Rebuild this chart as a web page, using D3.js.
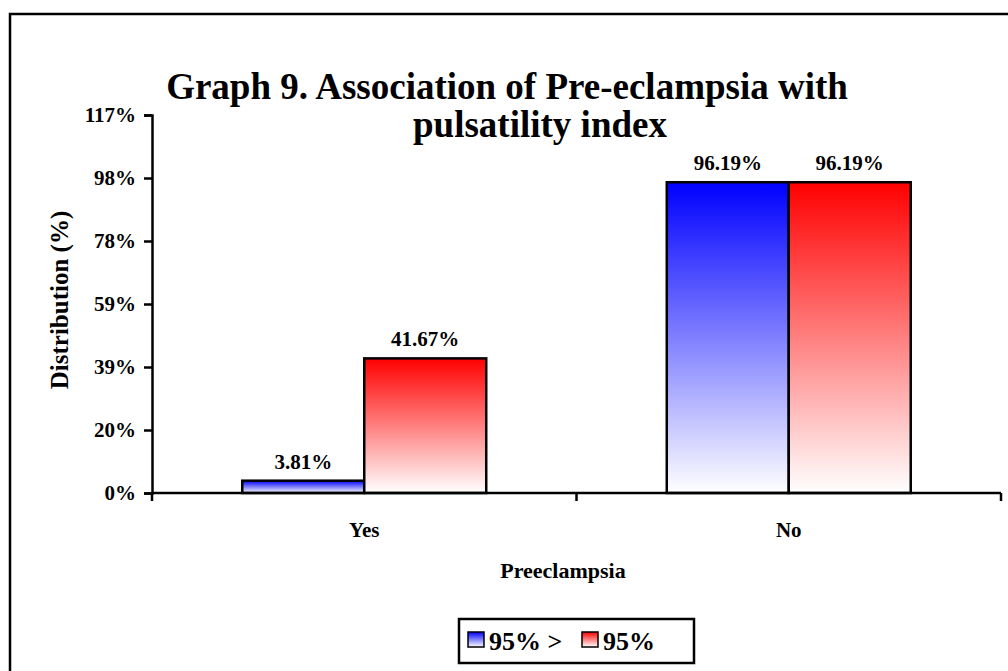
<!DOCTYPE html>
<html>
<head>
<meta charset="utf-8">
<script src="https://cdn.jsdelivr.net/npm/d3@7"></script>
<style>
  body { margin: 0; background: #fff; }
  svg text { font-family: "Liberation Serif", "Times New Roman", serif; font-weight: bold; fill: #000; }
</style>
</head>
<body>
<div id="chart"></div>
<script>
// data
var categories = ["Yes", "No"];
var seriesNames = ["95% >", "95%"];
var below95 = [3.81, 96.19];
var above95 = [41.67, 96.19];
var yTicks = [0, 19.5, 39, 58.5, 78, 97.5, 117];

var width = 1008, height = 671;
var svg = d3.select("#chart").append("svg")
  .attr("width", width)
  .attr("height", height);

// outer frame (runs past the right/bottom edge like the original)
svg.append("rect")
  .attr("x", 10).attr("y", 14)
  .attr("width", 1020).attr("height", 690)
  .attr("fill", "none").attr("stroke", "#000").attr("stroke-width", 2.5);

var colors = [["#0000ff", "#ffffff"], ["#ff0000", "#ffffff"]];
var defs = svg.append("defs");
colors.forEach(function (c, i) {
  var g = defs.append("linearGradient")
    .attr("id", "grad" + i)
    .attr("x1", 0).attr("y1", 0).attr("x2", 0).attr("y2", 1);
  g.append("stop").attr("offset", "0%").attr("stop-color", c[0]);
  g.append("stop").attr("offset", "100%").attr("stop-color", c[1]);
});

var plotLeft = 152, plotRight = 1001, plotTop = 115, plotBottom = 493;

var x = d3.scaleBand().domain(categories).range([plotLeft, plotRight]).padding(0);
var xs = d3.scaleBand().domain(seriesNames).range([0, x.bandwidth()]).paddingInner(0).paddingOuter(0.74);
var y = d3.scaleLinear().domain([0, 117]).range([plotBottom, plotTop]);

// y axis
var yAxis = svg.append("g")
  .attr("transform", "translate(" + plotLeft + ",0)")
  .call(d3.axisLeft(y).tickValues(yTicks).tickSizeOuter(0).tickSize(8).tickPadding(8)
    .tickFormat(function (d) { return Math.round(d) + "%"; }));
yAxis.select(".domain").attr("stroke-width", 2.5);
yAxis.selectAll(".tick line").attr("stroke-width", 2.5);
yAxis.selectAll("text").style("font-size", "21px").attr("fill", "#000");

// bars
var data = [below95, above95];
data.forEach(function (vals, si) {
  svg.append("g").selectAll("rect")
    .data(vals)
    .enter().append("rect")
    .attr("x", function (d, i) { return x(categories[i]) + xs(seriesNames[si]); })
    .attr("y", function (d) { return y(d); })
    .attr("width", xs.bandwidth())
    .attr("height", function (d) { return y(0) - y(d); })
    .attr("fill", "url(#grad" + si + ")")
    .attr("stroke", "#000").attr("stroke-width", 2.5);

  svg.append("g").selectAll("text")
    .data(vals)
    .enter().append("text")
    .attr("x", function (d, i) { return x(categories[i]) + xs(seriesNames[si]) + xs.bandwidth() / 2; })
    .attr("y", function (d) { return y(d) - 12; })
    .attr("text-anchor", "middle")
    .style("font-size", "21px")
    .text(function (d) { return d.toFixed(2) + "%"; });
});

// x axis (ticks at category boundaries)
var xAxis = svg.append("g").attr("transform", "translate(0," + plotBottom + ")");
xAxis.append("line").attr("x1", plotLeft).attr("x2", plotRight).attr("stroke", "#000").attr("stroke-width", 2.5);
var bounds = [plotLeft, x("No"), plotRight];
xAxis.selectAll(".tk").data(bounds).enter().append("line")
  .attr("x1", function (d) { return d; }).attr("x2", function (d) { return d; })
  .attr("y1", 0).attr("y2", 8)
  .attr("stroke", "#000").attr("stroke-width", 2.5);
xAxis.selectAll(".lbl").data(categories).enter().append("text")
  .attr("x", function (d) { return x(d) + x.bandwidth() / 2; })
  .attr("y", 44)
  .attr("text-anchor", "middle")
  .style("font-size", "21px")
  .text(function (d) { return d; });

// axis titles
svg.append("text")
  .attr("x", 563).attr("y", 578)
  .attr("text-anchor", "middle").style("font-size", "22px")
  .text("Preeclampsia");
svg.append("text")
  .attr("transform", "translate(68,300) rotate(-90)")
  .attr("text-anchor", "middle").style("font-size", "25px")
  .text("Distribution (%)");

// title
svg.append("text")
  .attr("x", 507).attr("y", 99)
  .attr("text-anchor", "middle").style("font-size", "37px")
  .text("Graph 9. Association of Pre-eclampsia with");
svg.append("text")
  .attr("x", 540).attr("y", 137)
  .attr("text-anchor", "middle").style("font-size", "37px")
  .text("pulsatility index");

// legend
var legend = svg.append("g");
legend.append("rect")
  .attr("x", 459).attr("y", 619).attr("width", 235).attr("height", 44)
  .attr("fill", "#fff").attr("stroke", "#000").attr("stroke-width", 2.5);
var legX = [468, 582];
seriesNames.forEach(function (s, i) {
  legend.append("rect")
    .attr("x", legX[i]).attr("y", 632).attr("width", 16).attr("height", 15)
    .attr("fill", "url(#grad" + i + ")")
    .attr("stroke", "#000").attr("stroke-width", 1.5);
  legend.append("text")
    .attr("x", legX[i] + 21).attr("y", 650)
    .style("font-size", "26px")
    .text(s);
});
</script>
</body>
</html>
